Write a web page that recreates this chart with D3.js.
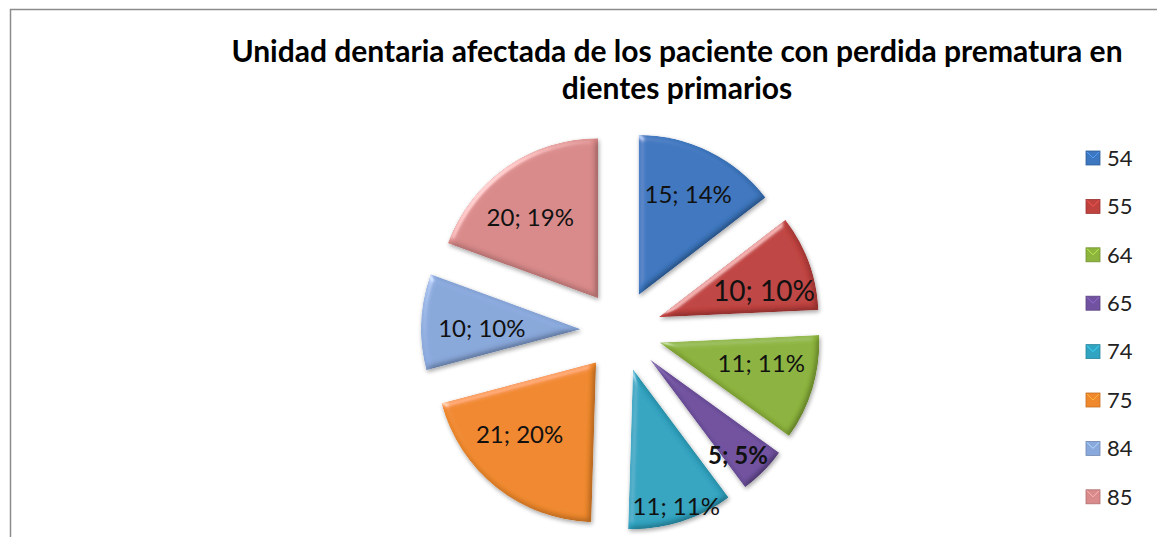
<!DOCTYPE html>
<html>
<head>
<meta charset="utf-8">
<script src="https://cdn.jsdelivr.net/npm/d3@7"></script>
<style>
  body { margin: 0; background: #fff; }
  text { font-family: Lato, "Open Sans", sans-serif; }
</style>
</head>
<body>
<div id="chart"></div>
<script>
const layout = {
    width: 1157,
    height: 537,
    cx: 621,
    cy: 331,
    radius: 160,
    explode: 40,
    legendX: 1086,
    legendY: 151,
    legendStep: 48.4
};

// data
const teeth = ["54", "55", "64", "65", "74", "75", "84", "85"];
const counts = [15, 10, 11, 5, 11, 21, 10, 20];
const percents = ["14%", "10%", "11%", "5%", "11%", "20%", "10%", "19%"];
const colors = ["#3d77bf", "#bf423f", "#8db43d", "#7152a0", "#31a4c1", "#f0892d", "#89a8db", "#d98a8a"];

const titleLines = ["Unidad dentaria afectada de los paciente con perdida prematura en", "dientes primarios"];

// label tweaks (fraction of radius, extra angle in degrees)
const labelPos = {
    "54": [0.70, 0], "55": [0.68, 6], "64": [0.65, -5], "65": [0.82, 3],
    "74": [0.90, 0], "75": [0.66, 8], "84": [0.62, -2], "85": [0.66, -5]
};

const svg = d3.select("#chart").append("svg")
    .attr("width", layout.width)
    .attr("height", layout.height);

const defs = svg.append("defs");

// soft bevel: diffuse shading times the fill, plus a specular rim
const bevel = defs.append("filter").attr("id", "bevel")
    .attr("x", "-10%").attr("y", "-10%").attr("width", "120%").attr("height", "120%");
bevel.append("feGaussianBlur").attr("in", "SourceAlpha").attr("stdDeviation", 3).attr("result", "blur");
bevel.append("feDiffuseLighting").attr("in", "blur").attr("surfaceScale", 3)
    .attr("diffuseConstant", 1.12).attr("lighting-color", "#ffffff").attr("result", "diff")
    .append("feDistantLight").attr("azimuth", 225).attr("elevation", 62);
bevel.append("feComposite").attr("in", "SourceGraphic").attr("in2", "diff")
    .attr("operator", "arithmetic").attr("k1", 1).attr("k2", 0).attr("k3", 0).attr("k4", 0).attr("result", "shaded");
bevel.append("feSpecularLighting").attr("in", "blur").attr("surfaceScale", 3)
    .attr("specularConstant", 0.8).attr("specularExponent", 30)
    .attr("lighting-color", "#ffffff").attr("result", "spec")
    .append("feDistantLight").attr("azimuth", 225).attr("elevation", 30);
bevel.append("feComposite").attr("in", "spec").attr("in2", "SourceAlpha").attr("operator", "in").attr("result", "specIn");
bevel.append("feComposite").attr("in", "shaded").attr("in2", "specIn")
    .attr("operator", "arithmetic").attr("k1", 0).attr("k2", 1).attr("k3", 0.5).attr("k4", 0).attr("result", "lit");
bevel.append("feComposite").attr("in", "lit").attr("in2", "SourceAlpha").attr("operator", "in").attr("result", "litIn");
bevel.append("feOffset").attr("in", "SourceAlpha").attr("dx", 1).attr("dy", 2).attr("result", "off");
bevel.append("feGaussianBlur").attr("in", "off").attr("stdDeviation", 2).attr("result", "shBlur");
bevel.append("feComponentTransfer").attr("in", "shBlur").attr("result", "shadow")
    .append("feFuncA").attr("type", "linear").attr("slope", 0.35);
const merge = bevel.append("feMerge");
merge.append("feMergeNode").attr("in", "shadow");
merge.append("feMergeNode").attr("in", "litIn");

// chart border
svg.append("rect")
    .attr("x", 10.5).attr("y", 9.5)
    .attr("width", layout.width + 20).attr("height", layout.height + 20)
    .attr("fill", "none").attr("stroke", "#8c8c8c").attr("stroke-width", 1.5);

// title
svg.append("g").selectAll("text")
    .data(titleLines)
    .join("text")
    .attr("x", 677)
    .attr("y", (d, i) => 62 + i * 37)
    .attr("text-anchor", "middle")
    .attr("font-size", 30)
    .attr("font-weight", "bold")
    .attr("fill", "#000")
    .text(d => d);

const data = teeth.map((t, i) => ({ tooth: t, count: counts[i], pct: percents[i], color: colors[i] }));

const pie = d3.pie().sort(null).value(d => d.count);
const arc = d3.arc().innerRadius(0).outerRadius(layout.radius);
const arcs = pie(data);

const pieG = svg.append("g").attr("transform", `translate(${layout.cx},${layout.cy})`);

const slice = pieG.selectAll("g.slice")
    .data(arcs)
    .join("g")
    .attr("class", "slice")
    .attr("transform", d => {
        const mid = (d.startAngle + d.endAngle) / 2;
        return `translate(${Math.sin(mid) * layout.explode},${-Math.cos(mid) * layout.explode})`;
    });

slice.append("path")
    .attr("d", arc)
    .attr("fill", d => d.data.color)
    .attr("filter", "url(#bevel)");

slice.append("text")
    .attr("transform", d => {
        const p = labelPos[d.data.tooth];
        const a = (d.startAngle + d.endAngle) / 2 + p[1] * Math.PI / 180;
        const r = layout.radius * p[0];
        return `translate(${Math.sin(a) * r},${-Math.cos(a) * r})`;
    })
    .attr("text-anchor", "middle")
    .attr("dy", "0.35em")
    .attr("font-size", d => d.data.tooth == "55" ? 28 : 24)
    .attr("font-weight", d => d.data.tooth == "65" ? "bold" : "normal")
    .attr("fill", "#111")
    .text(d => d.data.count + "; " + d.data.pct);

// legend
const legend = svg.append("g")
    .attr("transform", `translate(${layout.legendX},${layout.legendY})`);

const item = legend.selectAll("g")
    .data(data)
    .join("g")
    .attr("transform", (d, i) => `translate(0,${i * layout.legendStep})`);

item.append("rect")
    .attr("width", 14).attr("height", 14)
    .attr("fill", d => d.color)
    .attr("stroke", d => d3.color(d.color).darker(0.6))
    .attr("stroke-width", 0.8);

item.append("path")
    .attr("d", "M1,1 L7,7 L13,1")
    .attr("fill", "none")
    .attr("stroke", d => d3.color(d.color).brighter(0.8))
    .attr("stroke-width", 1);

item.append("text")
    .attr("x", 21)
    .attr("y", 7)
    .attr("dy", "0.35em")
    .attr("font-size", 22)
    .attr("fill", "#222")
    .text(d => d.tooth);
</script>
</body>
</html>
